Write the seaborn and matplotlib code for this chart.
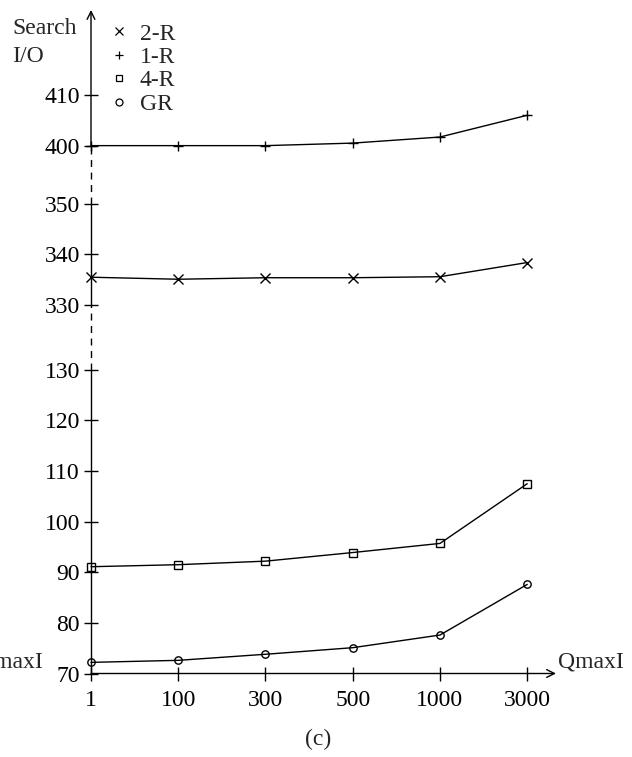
import numpy as np
import matplotlib
matplotlib.use("Agg")
import matplotlib.pyplot as plt
import seaborn as sns
from matplotlib.lines import Line2D

# Search I/O versus QmaxI
qmax = ["1", "100", "300", "500", "1000", "3000"]
io_2r = [335.5, 335.1, 335.4, 335.4, 335.6, 338.4]
io_1r = [400.0, 400.0, 400.0, 400.5, 401.7, 406.0]
io_4r = [91.1, 91.5, 92.2, 93.9, 95.7, 107.5]
io_gr = [72.2, 72.6, 73.8, 75.1, 77.6, 87.6]
series = ["2-R", "1-R", "4-R", "GR"]
series_values = [io_2r, io_1r, io_4r, io_gr]
series_markers = ["x", "+", "s", "o"]
y_ticks = [70, 80, 90, 100, 110, 120, 130, 330, 340, 350, 400, 410]

# Broken y axis: value knots and where they sit along the axis
knots_val = [70, 130, 330, 350, 400, 450]
knots_pos = [0, 60, 72.8, 92.8, 104.3, 154.3]
solid_runs = [(70, 130), (330, 350)]
dashed_runs = [(130, 330), (350, 400)]
y_top = 426.8

FS = 17

sns.set_theme(style="white")
plt.rcParams["font.family"] = ["Liberation Serif", "DejaVu Serif"]
plt.rcParams["font.size"] = FS

fig = plt.figure(figsize=(6.32, 7.57), dpi=100)
W, H = 632, 757
left_px, right_px, bottom_px, top_px = 91, 556, 673.5, 10
ax = fig.add_axes([left_px / W, (H - bottom_px) / H,
                   (right_px - left_px) / W, (bottom_px - top_px) / H])

ax.set_yscale("function", functions=(
    lambda v: np.interp(v, knots_val, knots_pos),
    lambda p: np.interp(p, knots_pos, knots_val)))

for name, vals, mk in zip(series, series_values, series_markers):
    filled = mk in ("x", "+")
    sns.lineplot(x=qmax, y=vals, ax=ax, color="black", lw=1.0,
                 marker=mk, ms=6.5 if filled else 5.3,
                 mfc="none", mec="black", mew=1.0,
                 sort=False, estimator=None, clip_on=False)

ax.set_xlim(0, 5.33)
ax.set_ylim(70, y_top)
ax.set_yticks(y_ticks)
ax.set_yticklabels([str(t) for t in y_ticks])
ax.set_xticks(range(len(qmax)))
ax.set_xticklabels(qmax)
ax.set_xlabel("")
ax.set_ylabel("")

for s in ax.spines.values():
    s.set_visible(False)

ax.tick_params(axis="both", which="both", direction="inout", length=10,
               width=1.0, color="black", labelsize=FS, labelcolor="black")
ax.tick_params(axis="y", pad=3, left=True)
ax.tick_params(axis="x", pad=7, bottom=True)

# left axis: solid segments, dashed across the breaks
for a, b in solid_runs:
    ax.plot([0, 0], [a, b], color="black", lw=1.0, clip_on=False, zorder=1)
for a, b in dashed_runs:
    ax.plot([0, 0], [a, b], color="black", lw=1.0, ls=(0, (5, 4)),
            clip_on=False, zorder=1)
ax.annotate("", xy=(0, 1.0), xycoords="axes fraction",
            xytext=(0, 400), textcoords=("axes fraction", "data"),
            arrowprops=dict(arrowstyle="->", color="black", lw=1.0,
                            shrinkA=0, shrinkB=0, mutation_scale=14))
ax.annotate("", xy=(1.0, 0), xycoords="axes fraction",
            xytext=(0, 0), textcoords="axes fraction",
            arrowprops=dict(arrowstyle="->", color="black", lw=1.0,
                            shrinkA=0, shrinkB=0, mutation_scale=14))

handles = [Line2D([], [], ls="none", marker=m, color="black", mfc="none",
                  mec="black", mew=0.9, ms=5.5 if m in ("x", "+") else 5)
           for m in series_markers]
ax.legend(handles, series, loc="upper left",
          bbox_to_anchor=(108 / W, 1 - 23 / H), bbox_transform=fig.transFigure,
          frameon=False, handlelength=0.9, handletextpad=0.45,
          labelspacing=0.08, borderpad=0, borderaxespad=0, fontsize=FS)

fig.text(12 / W, 1 - 28 / H, "Search", ha="left", va="center", fontsize=FS)
fig.text(12 / W, 1 - 56 / H, "I/O", ha="left", va="center", fontsize=FS)
fig.text(558 / W, 1 - 662 / H, "QmaxI", ha="left", va="center", fontsize=FS)
fig.text(43 / W, 1 - 662 / H, "QmaxI", ha="right", va="center", fontsize=FS)
fig.text(318 / W, 1 - 739 / H, "(c)", ha="center", va="center", fontsize=FS)

fig.savefig("out.png", dpi=100)
